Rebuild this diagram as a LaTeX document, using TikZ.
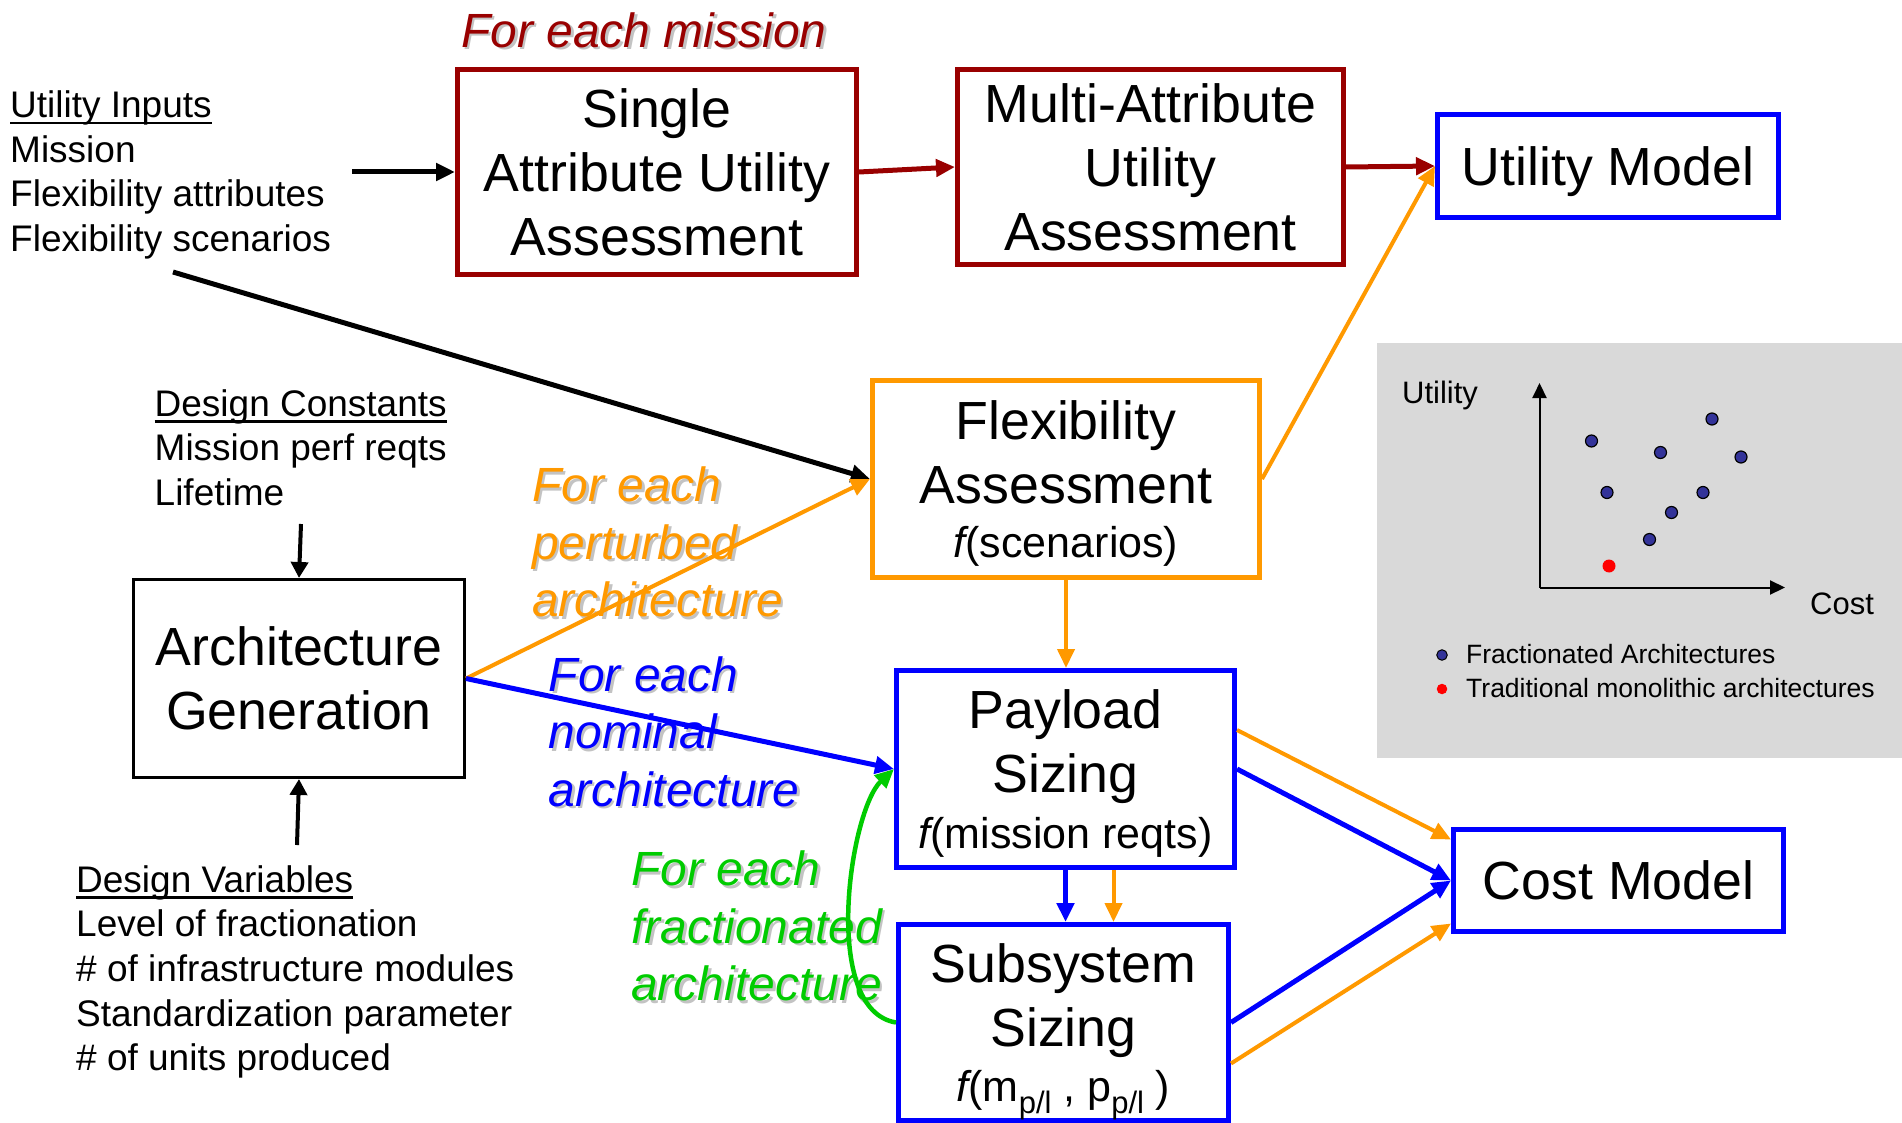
\documentclass[tikz,border=0pt]{standalone}
\usepackage{fontspec}
\setmainfont{Liberation Sans}
\usetikzlibrary{arrows.meta,calc}

\definecolor{boxred}{RGB}{153,0,0}
\definecolor{flexorange}{RGB}{255,153,0}
\definecolor{sizeblue}{RGB}{0,0,255}
\definecolor{loopgreen}{RGB}{0,204,0}
\definecolor{panelgrey}{RGB}{217,217,217}
\definecolor{dotnavy}{RGB}{51,51,153}
\definecolor{shadowgrey}{RGB}{195,195,195}

% text with a soft grey drop shadow
\newcommand\shtxt[1]{\leavevmode\rlap{\kern2.5pt\raisebox{-2.5pt}{\textcolor{shadowgrey}{#1}}}#1}
% heading with a heavier underline
\newcommand\headline[1]{\setbox0\hbox{#1}\rlap{\rule[-6.5pt]{\wd0}{2.5pt}}\box0}
% lowered "p/l" subscript
\newcommand\plsub{\lower12pt\hbox{\fontsize{31}{31}\selectfont p/l}}
% italic f without italic correction
\newcommand\fn{{\itshape f}}

\begin{document}
\begin{tikzpicture}[x=1pt,y=-1pt,
  box/.style={draw, line width=5pt, align=center, inner sep=0pt, text depth=0pt,
    font=\fontsize{53.7}{64}\selectfont},
  redbox/.style={box, draw=boxred},
  bluebox/.style={box, draw=sizeblue},
  orangebox/.style={box, draw=flexorange},
  plainbox/.style={box, draw=black, line width=3pt},
  listtext/.style={align=left, anchor=west, inner sep=0pt, font=\fontsize{37}{44.7}\selectfont},
  looplabel/.style={align=left, anchor=west, inner sep=0pt, font=\fontsize{48}{57.5}\selectfont\itshape},
  plottext/.style={anchor=west, inner sep=0pt, text depth=0pt},
  headed/.style={-{Triangle[length=19pt,width=17pt]}},
  blackarrow/.style={headed, line width=5pt, draw=black},
  thinblack/.style={-{Triangle[length=16pt,width=17pt]}, line width=4pt, draw=black},
  redarrow/.style={headed, line width=5pt, draw=boxred},
  bluearrow/.style={headed, line width=5pt, draw=sizeblue},
  orangearrow/.style={headed, line width=4pt, draw=flexorange},
  greenarrow/.style={headed, line width=4.5pt, draw=loopgreen},
  axisarrow/.style={-{Triangle[length=15pt,width=14pt]}, line width=2pt, draw=black},
  plotdot/.style={circle, draw=black, fill=dotnavy, line width=1.2pt, minimum size=12pt, inner sep=0pt},
  bullet/.style={circle, inner sep=0pt, minimum size=10.5pt},
]
\useasboundingbox (0,0) rectangle (1902,1123);
\fill[white] (0,0) rectangle (1902,1123);

% ---------- utility side ----------
\node[looplabel, text=boxred] (mission) at (461,31.5) {\shtxt{For each mission}};
\node[redbox, minimum width=399pt, minimum height=205pt] (sa) at (657,172)
  {Single\\Attribute Utility\\Assessment};
\node[redbox, minimum width=386pt, minimum height=195pt] (maua) at (1150.5,167)
  {Multi-Attribute\\Utility\\Assessment};
\node[bluebox, minimum width=341pt, minimum height=103pt] (um) at (1608,166) {Utility Model};

\node[listtext] (uin) at (10,175)
  {\headline{Utility Inputs}\\Mission\\Flexibility attributes\\Flexibility scenarios};
\coordinate (uintail) at (352,172);
\coordinate (uinfoot) at (173,272);

% ---------- architecture side ----------
\node[listtext] (dc) at (154.5,447.5)
  {\headline{Design Constants}\\Mission perf reqts\\Lifetime};
\node[plainbox, minimum width=331pt, minimum height=198pt] (arch) at (299,678.5)
  {Architecture\\Generation};
\node[listtext] (dv) at (76,972)
  {\headline{Design Variables}\\Level of fractionation\\\# of infrastructure modules\\Standardization parameter\\\# of units produced};
\coordinate (dctail) at (301,524);
\coordinate (dvtail) at (297,845);

\node[orangebox, minimum width=387pt, minimum height=197pt] (flex) at (1066,479)
  {Flexibility\\Assessment\\[-10pt]{\fontsize{43}{52}\selectfont\fn(scenarios)}};
\node[bluebox, minimum width=338pt, minimum height=197pt] (pay) at (1065.5,769)
  {Payload\\Sizing\\[-8pt]{\fontsize{43}{52}\selectfont\fn(mission reqts)}};
\node[bluebox, minimum width=330pt, minimum height=196pt] (sub) at (1063.5,1022.5)
  {Subsystem\\Sizing\\[-9pt]{\fontsize{43}{52}\selectfont\fn(m\plsub\ , p\plsub\ )}};
\node[bluebox, minimum width=330pt, minimum height=102pt] (cost) at (1618.5,880.5) {Cost Model};

\node[looplabel, text=flexorange] (pert) at (532,543.5)
  {\shtxt{For each}\\\shtxt{perturbed}\\\shtxt{architecture}};
\node[looplabel, text=sizeblue] (nom) at (548.5,733)
  {\shtxt{For each}\\\shtxt{nominal}\\\shtxt{architecture}};
\node[looplabel, text=loopgreen] (frac) at (631,927.5)
  {\shtxt{For each}\\\shtxt{fractionated}\\\shtxt{architecture}};

% ---------- connectors ----------
\draw[blackarrow] (uintail) -- (sa.west);
\draw[blackarrow] (uinfoot) -- (flex.west);
\draw[redarrow] (sa.east) -- (maua.west);
\draw[redarrow] (maua.east) -- (um.west);
\draw[orangearrow] (flex.east) -- (um.west);
\draw[thinblack] (dctail) -- (arch.north);
\draw[thinblack] (dvtail) -- (arch.south);
\draw[orangearrow] (arch.east) -- (flex.west);
\draw[bluearrow] (arch.east) -- (pay.west);
\draw[orangearrow] (flex.south) -- (flex.south |- pay.north);
\draw[bluearrow] (pay.south) -- (pay.south |- sub.north);
\draw[orangearrow] ([xshift=48pt]pay.south) -- ([xshift=48pt]pay.south |- sub.north);
\draw[greenarrow] (sub.west) .. controls (820,1010) and (850,810) .. (pay.west);
\draw[orangearrow] ([yshift=39pt]pay.east) -- ([yshift=41pt]cost.west);
\draw[bluearrow] (pay.east) -- (cost.west);
\draw[bluearrow] (sub.east) -- (cost.west);
\draw[orangearrow] ([yshift=-41pt]sub.east) -- ([yshift=-43pt]cost.west);

% ---------- utility / cost plot ----------
\fill[panelgrey] (1377,343) rectangle (1902,758);
\coordinate (origin) at (1539.5,587.5);
\coordinate (ytop) at (1539.5,383);
\coordinate (xend) at (1785,587.5);
\draw[axisarrow] (origin) -- (ytop);
\draw[axisarrow] (origin) -- (xend);
\node[plottext, font=\fontsize{31}{36}\selectfont] (ylab) at (1402,392) {Utility};
\node[plottext, font=\fontsize{31}{36}\selectfont] (xlab) at (1810,604) {Cost};
\node[plotdot] (d1) at (1591.5,441) {};
\node[plotdot] (d2) at (1660.5,452.5) {};
\node[plotdot] (d3) at (1712,419) {};
\node[plotdot] (d4) at (1741,457) {};
\node[plotdot] (d5) at (1607,492.5) {};
\node[plotdot] (d6) at (1703,492.5) {};
\node[plotdot] (d7) at (1671.5,512.5) {};
\node[plotdot] (d8) at (1649.5,539.5) {};
\node[circle, fill=red, inner sep=0pt, minimum size=13pt] (mono) at (1609,566) {};
\node[bullet, fill=dotnavy, draw=black, line width=1pt] (b1) at (1442,655) {};
\node[bullet, fill=red] (b2) at (1442,689) {};
\node[plottext, font=\fontsize{26.5}{30}\selectfont] (leg1) at (1466,654) {Fractionated Architectures};
\node[plottext, font=\fontsize{26.5}{30}\selectfont] (leg2) at (1466,688) {Traditional monolithic architectures};
\end{tikzpicture}
\end{document}
